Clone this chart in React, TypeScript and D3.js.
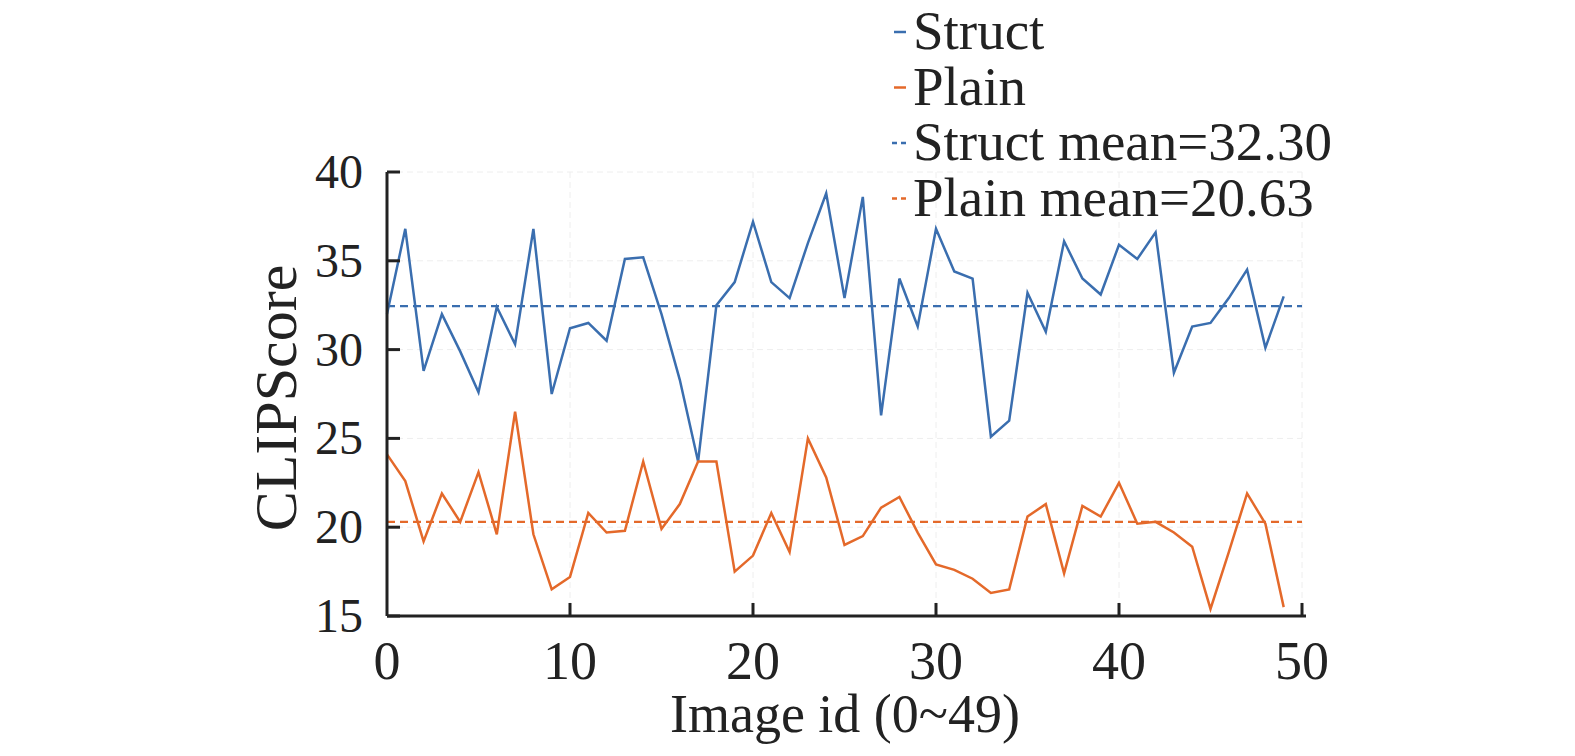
import * as d3 from "d3";

const ids = d3.range(50);
const structScores = [32.0, 36.8, 28.8, 32.0, 29.9, 27.6, 32.4, 30.3, 36.8, 27.5, 31.2, 31.5, 30.5, 35.1, 35.2, 32.0, 28.3, 23.7, 32.5, 33.8, 37.2, 33.8, 32.9, 36.0, 38.8, 32.9, 38.6, 26.3, 34.0, 31.3, 36.8, 34.4, 34.0, 25.1, 26.0, 33.2, 31.0, 36.1, 34.0, 33.1, 35.9, 35.1, 36.6, 28.7, 31.3, 31.5, 32.9, 34.5, 30.1, 33.0];
const plainScores = [24.1, 22.6, 19.2, 21.9, 20.3, 23.1, 19.6, 26.5, 19.6, 16.5, 17.2, 20.8, 19.7, 19.8, 23.7, 19.9, 21.3, 23.7, 23.7, 17.5, 18.4, 20.8, 18.6, 25.0, 22.8, 19.0, 19.5, 21.1, 21.7, 19.7, 17.9, 17.6, 17.1, 16.3, 16.5, 20.6, 21.3, 17.4, 21.2, 20.6, 22.5, 20.2, 20.3, 19.7, 18.9, 15.4, 18.6, 21.9, 20.2, 15.5];
const meanLevels = [32.45, 20.3];
const legendLabels = ["Struct", "Plain", "Struct mean=32.30", "Plain mean=20.63"];
const xTicks = [0, 10, 20, 30, 40, 50];
const yTicks = [15, 20, 25, 30, 35, 40];

const BLUE = "#3a6eaf";
const ORANGE = "#e4692a";
const FONT = "'Liberation Serif', 'Times New Roman', serif";
const M = { left: 387, right: 1302, top: 172, bottom: 616 };

export default function App() {
  const x = d3.scaleLinear().domain([0, 50]).range([M.left, M.right]);
  const y = d3.scaleLinear().domain([15, 40]).range([M.bottom, M.top]);
  const line = d3.line<number>().x((_, i) => x(ids[i])).y((d) => y(d));

  return (
    <svg width={1575} height={756} style={{ position: "absolute", left: 0, top: 0, background: "#fff" }}>
      {yTicks.slice(1).map((t) => (
        <line key={"gy" + t} x1={M.left} x2={M.right} y1={y(t)} y2={y(t)} stroke="#eee" strokeDasharray="6 4" />
      ))}
      {xTicks.slice(1).map((t) => (
        <line key={"gx" + t} x1={x(t)} x2={x(t)} y1={M.top} y2={M.bottom} stroke="#eee" strokeDasharray="6 4" />
      ))}
      <line x1={M.left} x2={M.right} y1={y(meanLevels[0])} y2={y(meanLevels[0])} stroke={BLUE} strokeWidth={2.2} strokeDasharray="8 5" />
      <line x1={M.left} x2={M.right} y1={y(meanLevels[1])} y2={y(meanLevels[1])} stroke={ORANGE} strokeWidth={2.2} strokeDasharray="8 5" />
      <path d={line(structScores) ?? ""} fill="none" stroke={BLUE} strokeWidth={2.5} />
      <path d={line(plainScores) ?? ""} fill="none" stroke={ORANGE} strokeWidth={2.5} />
      <line x1={M.left} x2={M.left} y1={M.top} y2={M.bottom} stroke="#222" strokeWidth={3} />
      <line x1={M.left} x2={M.right + 4} y1={M.bottom} y2={M.bottom} stroke="#222" strokeWidth={3} />
      {yTicks.map((t) => (
        <g key={"y" + t}>
          <line x1={M.left} x2={M.left + 13} y1={y(t)} y2={y(t)} stroke="#222" strokeWidth={3} />
          <text x={M.left - 24} y={y(t) + 16} textAnchor="end" fontFamily={FONT} fontSize={48} fill="#222">{t}</text>
        </g>
      ))}
      {xTicks.map((t) => (
        <g key={"x" + t}>
          {t > 0 && <line x1={x(t)} x2={x(t)} y1={M.bottom} y2={M.bottom - 13} stroke="#222" strokeWidth={3} />}
          <text x={x(t)} y={679} textAnchor="middle" fontFamily={FONT} fontSize={54} fill="#222">{t}</text>
        </g>
      ))}
      <text x={845} y={732} textAnchor="middle" fontFamily={FONT} fontSize={54} fill="#222">Image id (0~49)</text>
      <text transform="translate(296,398) rotate(-90)" textAnchor="middle" fontFamily={FONT} fontSize={60} fill="#222">CLIPScore</text>
      {legendLabels.map((l, i) => {
        const ly = 32 + i * 55.5;
        const c = i % 2 === 0 ? BLUE : ORANGE;
        return (
          <g key={l}>
            {i < 2 ? (
              <line x1={894} x2={906} y1={ly} y2={ly} stroke={c} strokeWidth={2.5} />
            ) : (
              <line x1={892} x2={908} y1={ly} y2={ly} stroke={c} strokeWidth={2.5} strokeDasharray="5 4" />
            )}
            <text x={913} y={ly + 17} fontFamily={FONT} fontSize={55} fill="#222">{l}</text>
          </g>
        );
      })}
    </svg>
  );
}
